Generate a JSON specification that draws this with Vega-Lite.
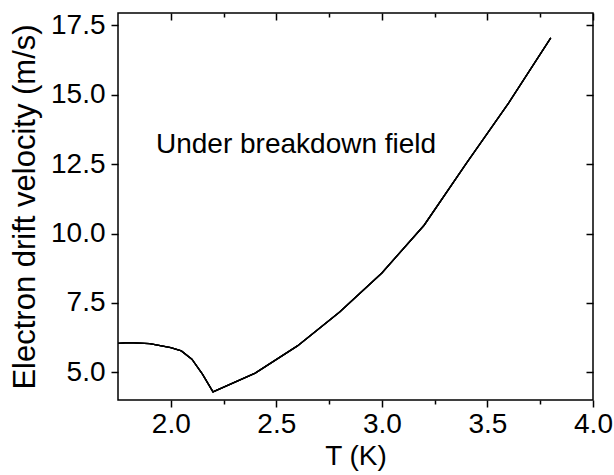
{
  "$schema": "https://vega.github.io/schema/vega-lite/v6.json",
  "autosize": {"type": "none"},
  "padding": {"left": 118, "top": 13, "right": 21, "bottom": 75},
  "width": 475,
  "height": 387,
  "background": "white",
  "config": {
    "view": {"stroke": "black", "strokeWidth": 1.5},
    "font": "Liberation Sans",
    "axis": {
      "grid": false,
      "domain": false,
      "labelFlush": false,
      "labelOverlap": false,
      "tickColor": "black",
      "tickWidth": 1.5,
      "labelColor": "black",
      "titleColor": "black",
      "labelFont": "Liberation Sans",
      "titleFont": "Liberation Sans",
      "titleFontWeight": "normal",
      "labelFontSize": 28,
      "titleFontSize": 28
    }
  },
  "data": {
    "values": [
      {"T": 1.75, "v": 6.04},
      {"T": 1.80, "v": 6.07},
      {"T": 1.90, "v": 6.03},
      {"T": 2.00, "v": 5.89},
      {"T": 2.05, "v": 5.77},
      {"T": 2.10, "v": 5.47},
      {"T": 2.15, "v": 4.93},
      {"T": 2.20, "v": 4.29},
      {"T": 2.40, "v": 4.97},
      {"T": 2.60, "v": 5.95},
      {"T": 2.80, "v": 7.17},
      {"T": 3.00, "v": 8.58},
      {"T": 3.20, "v": 10.30},
      {"T": 3.40, "v": 12.53},
      {"T": 3.60, "v": 14.70},
      {"T": 3.80, "v": 17.05}
    ]
  },
  "layer": [
    {
      "mark": {"type": "line", "color": "black", "strokeWidth": 1.3},
      "encoding": {
        "x": {"field": "T", "type": "quantitative",
          "scale": {"domain": [1.75, 4.0], "nice": false, "zero": false},
          "axis": {"orient": "bottom", "values": [2, 2.5, 3, 3.5, 4], "format": ".1f", "tickSize": 7, "labelPadding": 3, "title": "T (K)", "titlePadding": 4}},
        "y": {"field": "v", "type": "quantitative",
          "scale": {"domain": [4.0, 17.95], "nice": false, "zero": false},
          "axis": {"orient": "left", "values": [5, 7.5, 10, 12.5, 15, 17.5], "format": ".1f", "tickSize": 7, "labelPadding": 6, "title": "Electron drift velocity (m/s)", "titleFontSize": 31, "titlePadding": 9}}
      }
    },
    {
      "mark": {"type": "line", "color": "black", "strokeWidth": 1.3},
      "encoding": {
        "x": {"field": "T", "type": "quantitative",
          "axis": {"orient": "top", "values": [2, 2.5, 3, 3.5, 4], "labels": false, "tickSize": -7, "title": null}},
        "y": {"field": "v", "type": "quantitative",
          "axis": {"orient": "right", "values": [5, 7.5, 10, 12.5, 15, 17.5], "labels": false, "tickSize": -7, "title": null}}
      }
    },
    {
      "mark": {"type": "line", "color": "black", "strokeWidth": 1.3},
      "encoding": {
        "x": {"field": "T", "type": "quantitative",
          "axis": {"orient": "bottom", "values": [2.25, 2.75, 3.25, 3.75], "labels": false, "tickSize": 4, "title": null}},
        "y": {"field": "v", "type": "quantitative", "axis": null}
      }
    },
    {
      "mark": {"type": "line", "color": "black", "strokeWidth": 1.3},
      "encoding": {
        "x": {"field": "T", "type": "quantitative",
          "axis": {"orient": "top", "values": [2.25, 2.75, 3.25, 3.75], "labels": false, "tickSize": -4, "title": null}},
        "y": {"field": "v", "type": "quantitative", "axis": null}
      }
    },
    {
      "data": {"values": [{"T": 1.93, "v": 12.9, "label": "Under breakdown field"}]},
      "mark": {"type": "text", "align": "left", "baseline": "alphabetic", "fontSize": 28, "font": "Liberation Sans", "color": "black"},
      "encoding": {
        "x": {"field": "T", "type": "quantitative", "axis": null},
        "y": {"field": "v", "type": "quantitative", "axis": null},
        "text": {"field": "label"}
      }
    }
  ],
  "resolve": {"axis": {"x": "independent", "y": "independent"}}
}
